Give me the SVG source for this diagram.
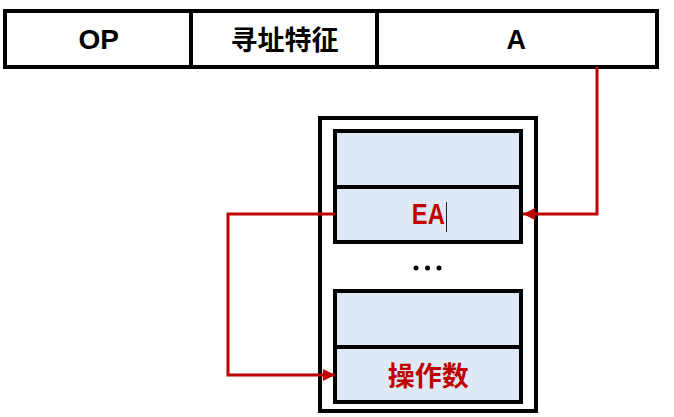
<svg xmlns="http://www.w3.org/2000/svg" width="674" height="417" viewBox="0 0 674 417">
<defs>
<style>
.box{fill:#fff;stroke:#000;stroke-width:4}
.cell{fill:#dee9f5;stroke:#000;stroke-width:4}
.t{font-family:"Liberation Sans","Noto Sans CJK SC",sans-serif;font-weight:bold;text-anchor:middle}
.red{fill:#c00000}
.conn{fill:none;stroke:#c00000;stroke-width:3}
</style>
<marker id="ah" viewBox="0 0 10 10" refX="10" refY="5" markerWidth="4" markerHeight="4" orient="auto" markerUnits="strokeWidth">
<path d="M0,0 L10,5 L0,10 Z" fill="#c00000"/>
</marker>
</defs>
<rect width="674" height="417" fill="#fff"/>
<g id="instruction">
<rect class="box" x="5" y="11" width="652" height="56"/>
<line x1="191" y1="11" x2="191" y2="67" stroke="#000" stroke-width="4"/>
<line x1="377" y1="11" x2="377" y2="67" stroke="#000" stroke-width="4"/>
<text class="t" x="98.8" y="49.3" font-size="28">OP</text>
<text class="t" x="284.5" y="49.5" font-size="27">寻址特征</text>
<text class="t" x="516.3" y="49.3" font-size="27">A</text>
</g>
<g id="memory">
<rect class="box" x="320" y="118" width="216" height="293"/>
</g>
<g id="cell1">
<rect class="cell" x="335" y="131" width="186" height="56"/>
</g>
<g id="cellEA">
<rect class="cell" x="335" y="187" width="186" height="55"/>
<text class="t red" x="428.3" y="224.3" font-size="29" textLength="33" lengthAdjust="spacingAndGlyphs">EA</text>
<line x1="446.5" y1="202" x2="446.5" y2="232" stroke="#222" stroke-width="1"/>
</g>
<g id="dots">
<circle cx="416" cy="268" r="2.5" fill="#000"/>
<circle cx="427.5" cy="268" r="2.5" fill="#000"/>
<circle cx="439" cy="268" r="2.5" fill="#000"/>
</g>
<g id="cell3">
<rect class="cell" x="335" y="291" width="186" height="56"/>
</g>
<g id="cellOperand">
<rect class="cell" x="335" y="347" width="186" height="55"/>
<text class="t red" x="428.3" y="386" font-size="27">操作数</text>
</g>
<g id="connectors">
<path class="conn" d="M597,67 V214 H523" marker-end="url(#ah)"/>
<path class="conn" d="M335,214 H228 V375 H335" marker-end="url(#ah)"/>
</g>
</svg>
